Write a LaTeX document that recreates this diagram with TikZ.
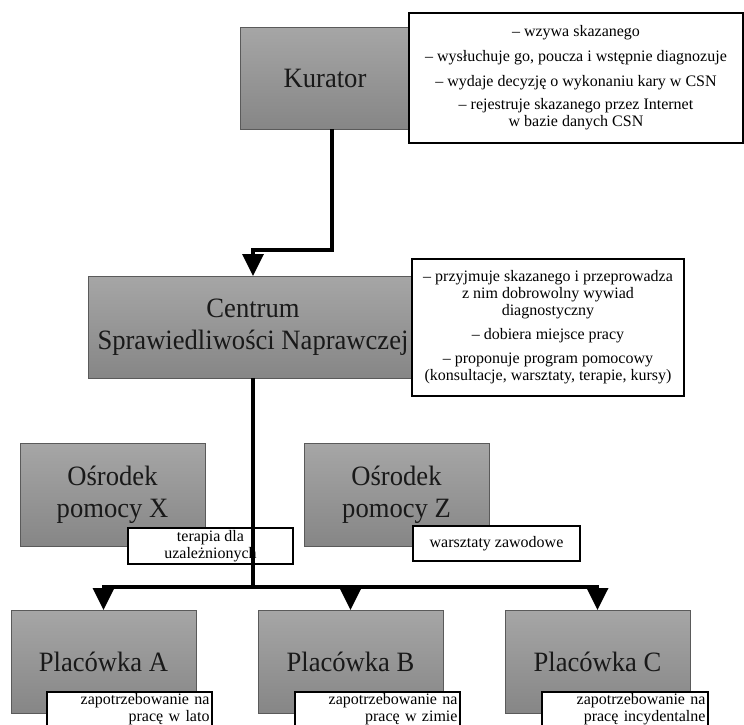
\documentclass[tikz,border=0pt]{standalone}
\usepackage{fontspec}
\setmainfont{Liberation Serif}
\newfontfamily\bigf[FakeStretch=0.95]{Liberation Serif}
\usetikzlibrary{arrows.meta}
\definecolor{boxtop}{HTML}{A6A6A6}
\definecolor{boxbot}{HTML}{868686}
\definecolor{boxedge}{HTML}{5A5A5A}
\begin{document}
\begin{tikzpicture}[x=1pt,y=-1pt,
  gbox/.style={draw=boxedge, line width=0.8pt, top color=boxtop, bottom color=boxbot,
    anchor=north west, inner sep=0pt, outer sep=0pt, align=center, text=black!90,
    font=\bigf\fontsize{28}{32}\selectfont},
  wbox/.style={draw=black, line width=1.1pt, fill=white, anchor=north west,
    inner xsep=2pt, inner ysep=0pt, outer sep=0pt, font=\fontsize{16}{17}\selectfont},
  nbox/.style={wbox, inner ysep=1pt, font=\fontsize{16}{16.5}\selectfont},
  conn/.style={line width=3.5pt, -{Triangle[width=21pt,length=22pt]}},
  wire/.style={line width=3.5pt}]
\useasboundingbox (0,0) rectangle (744,724);
\clip (0,0) rectangle (744,724);

% gray boxes
\node[gbox, minimum width=170pt, minimum height=102pt] (kur) at (240,27) {Kurator};
\node[gbox, minimum width=330pt, minimum height=102pt] (csn) at (88,276) {Centrum\\Sprawiedliwości Naprawczej};
\node[gbox, minimum width=185pt, minimum height=103pt] (ox) at (20,443) {Ośrodek\\pomocy X};
\node[gbox, minimum width=185pt, minimum height=103pt] (oz) at (304,443) {Ośrodek\\pomocy Z};
\node[gbox, minimum width=185pt, minimum height=103pt] (pa) at (11,610) {Placówka A};
\node[gbox, minimum width=185pt, minimum height=103pt] (pb) at (258,610) {Placówka B};
\node[gbox, minimum width=185pt, minimum height=103pt] (pc) at (505,610) {Placówka C};

% white description boxes
\node[wbox, minimum width=334pt, minimum height=130pt, align=center] (kurd) at (409,13)
  {– wzywa skazanego\\[8pt]
   – wysłuchuje go, poucza i wstępnie diagnozuje\\[8pt]
   – wydaje decyzję o wykonaniu kary w CSN\\[6pt]
   – rejestruje skazanego przez Internet\\
   w bazie danych CSN};
\node[wbox, minimum width=272pt, minimum height=137pt, align=center] (csnd) at (412,259)
  {– przyjmuje skazanego i przeprowadza\\
   z nim dobrowolny wywiad\\
   diagnostyczny\\[7pt]
   – dobiera miejsce pracy\\[7pt]
   – proponuje program pomocowy\\
   (konsultacje, warsztaty, terapie, kursy)};
\node[nbox, minimum width=165pt, minimum height=36pt, align=center] (oxd) at (128,528)
  {terapia dla\\uzależnionych};
\node[nbox, minimum width=167pt, minimum height=35pt, align=center] (ozd) at (413,526)
  {warsztaty zawodowe};
\node[nbox, inner ysep=1.5pt, minimum width=165pt, text width=160pt, align=right] (pad) at (47,692)
  {zapotrzebowanie na\\pracę w lato};
\node[nbox, inner ysep=1.5pt, minimum width=165pt, text width=160pt, align=right] (pbd) at (295,692)
  {zapotrzebowanie na\\pracę w zimie};
\node[nbox, inner ysep=1.5pt, minimum width=166pt, text width=161pt, align=right] (pcd) at (542,692)
  {zapotrzebowanie na\\pracę incydentalne};

% connectors
\coordinate (kb) at ([xshift=7pt]kur.south);
\coordinate (kc) at (253,250);
\draw[conn] (kb) |- (kc) -- (csn.north);
\coordinate (jn) at (253,587);
\draw[wire] (csn.south) -- (jn);
\draw[conn] (jn) -| (pa.north);
\draw[conn] (jn) -| (pb.north);
\draw[conn] (jn) -| (pc.north);
\end{tikzpicture}
\end{document}
